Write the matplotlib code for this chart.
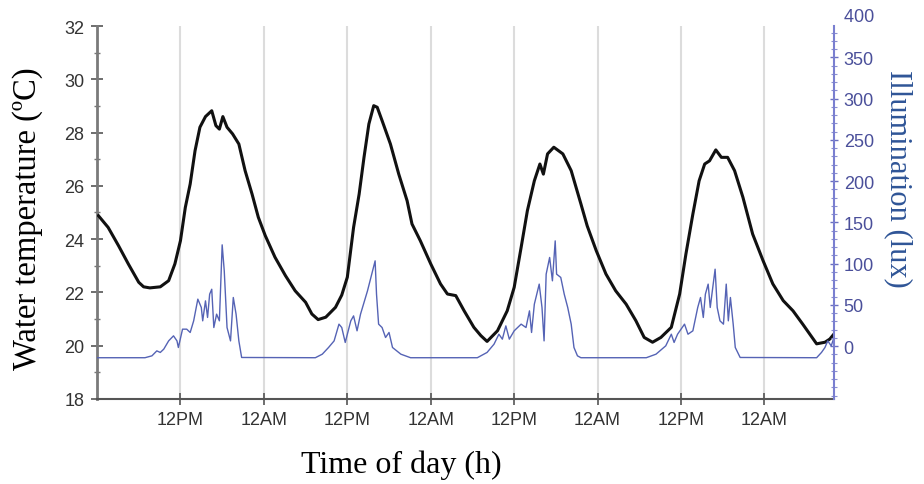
import numpy as np
import matplotlib
matplotlib.use("Agg")
import matplotlib.pyplot as plt
from matplotlib.ticker import MultipleLocator, FixedLocator
import matplotlib.transforms as mtransforms

# Water temperature (degC) against time (hours from the first midnight)
temp_hours = [0.2, 1.6, 3.1, 4.5, 6.0, 6.7, 7.6, 9.1, 10.3, 11.2, 12.0, 12.7, 13.4, 14.1,
              14.8, 15.6, 16.5, 17.1, 17.6, 18.1, 18.7, 19.5, 20.4, 21.3, 22.3, 23.2,
              24.2, 25.6, 27.1, 28.5, 30.0, 30.9, 31.8, 32.9, 34.3, 35.2, 36.0, 36.9,
              37.7, 38.4, 39.1, 39.8, 40.3, 41.0, 42.2, 43.4, 44.6, 45.3, 46.5, 48.0,
              49.4, 50.4, 51.6, 52.8, 54.2, 55.2, 56.1, 57.6, 59.0, 60.0, 61.0, 61.9,
              62.9, 63.7, 64.2, 64.8, 65.7, 67.0, 68.2, 69.6, 70.5, 71.8, 73.2, 74.6,
              76.1, 77.5, 78.7, 79.9, 81.1, 82.6, 83.8, 84.7, 85.7, 86.6, 87.4, 88.1,
              89.0, 89.8, 90.7, 91.7, 92.9, 94.3, 95.8, 97.2, 98.7, 100.1, 101.5, 102.5,
              103.5, 104.7, 105.4, 106.0]
temp_values = [24.88, 24.44, 23.75, 23.07, 22.38, 22.21, 22.17, 22.21, 22.44, 23.07, 23.94,
               25.19, 26.07, 27.32, 28.2, 28.6, 28.82, 28.26, 28.13, 28.6, 28.2, 27.95,
               27.57, 26.57, 25.69, 24.82, 24.13, 23.32, 22.63, 22.06, 21.63, 21.19, 20.98,
               21.07, 21.44, 21.9, 22.57, 24.44, 25.69, 27.07, 28.32, 29.01, 28.95, 28.45,
               27.57, 26.44, 25.44, 24.57, 23.94, 23.07, 22.32, 21.94, 21.88, 21.31, 20.69,
               20.38, 20.16, 20.56, 21.31, 22.19, 23.69, 25.07, 26.19, 26.82, 26.44, 27.2,
               27.45, 27.2, 26.57, 25.32, 24.5, 23.57, 22.69, 22.06, 21.56, 20.94, 20.31,
               20.13, 20.31, 20.69, 21.94, 23.44, 24.94, 26.19, 26.82, 26.94, 27.35, 27.07,
               27.07, 26.57, 25.57, 24.19, 23.19, 22.32, 21.69, 21.31, 20.81, 20.44, 20.07,
               20.13, 20.25, 20.44]

# Illumination (lux)
lux_hours = [0.0, 6.9, 7.9, 8.6, 9.1, 9.6, 10.3, 11.0, 11.5, 11.7, 12.3, 12.9, 13.4, 13.9,
             14.5, 15.0, 15.2, 15.6, 15.9, 16.2, 16.5, 16.8, 17.2, 17.6, 18.0, 18.3, 18.7,
             19.2, 19.6, 20.0, 20.4, 20.8, 31.4, 32.4, 33.3, 34.1, 34.8, 35.2, 35.7, 36.5,
             36.9, 37.4, 37.9, 38.9, 40.0, 40.2, 40.5, 41.0, 41.5, 42.0, 42.5, 43.7, 45.1,
             54.7, 56.1, 57.1, 57.8, 58.3, 58.8, 59.3, 60.0, 61.0, 61.7, 62.2, 62.5, 62.9,
             63.6, 64.0, 64.3, 64.6, 65.1, 65.5, 65.9, 66.1, 66.7, 67.2, 67.7, 68.2, 68.6,
             69.1, 69.6, 79.0, 80.4, 81.8, 82.6, 83.0, 83.5, 84.5, 85.0, 85.7, 86.4, 86.8,
             87.2, 87.5, 87.9, 88.2, 88.5, 88.9, 89.2, 89.6, 90.1, 90.5, 90.8, 91.1, 91.5,
             91.8, 92.5, 103.5, 104.2, 104.7, 105.1, 105.6, 106.0]
lux_values = [-14, -14, -11.7, -5.7, -7.6, -3.6, 6.4, 12.5, 6.4, -1.6, 20.6, 20.6, 16.6, 30.7,
              57, 46.9, 30.7, 54.9, 34.8, 63, 69, 22.6, 38.8, 30.7, 122.8, 91.3, 22.6,
              6.4, 59, 38.8, 6.4, -13.7, -14, -9.7, -1.6, 6.4, 26.7, 22.6, 4.5, 30.7,
              36.7, 18.6, 38.8, 67, 103.4, 63, 26.7, 22.6, 10.5, 16.6, -1.6, -9.7, -14,
              -14, -7.6, 2.4, 14.5, 8.5, 24.6, 8.5, 18.6, 26.7, 22.6, 42.8, 16.6, 50.9,
              75.2, 46.9, 6.4, 87.3, 107.5, 79.2, 127.6, 87.3, 83.3, 63, 46.9, 26.7, -1.6,
              -11.7, -14, -14, -9.7, 0.4, 14.5, 4.5, 14.5, 26.7, 14.5, 18.6, 46.9, 59,
              34.8, 63, 75.2, 46.9, 67, 93.3, 46.9, 30.7, 26.7, 75.2, 30.7, 59, 26.7,
              -1.6, -13.7, -14, -7.6, -1.6, 6.4, 0.4, 10.5]

x_ticks = [12, 24, 36, 48, 60, 72, 84, 96]
x_labels = ["12PM", "12AM", "12PM", "12AM", "12PM", "12AM", "12PM", "12AM"]
lux_ticks = [0, 50, 100, 150, 200, 250, 300, 350]

fig = plt.figure(figsize=(9.24, 4.85), dpi=100)
ax = fig.add_axes([0.105, 0.1753, 0.7976, 0.769])
ax2 = ax.twinx()

ax.plot(temp_hours, temp_values, color="#111111", lw=2.2, zorder=3)
ax2.plot(lux_hours, lux_values, color="#5563b5", lw=1.0)

ax.set_xlim(0, 106)
ax.set_ylim(18, 32)
ax2.set_ylim(-64, 388)

ax.xaxis.set_major_locator(FixedLocator(x_ticks))
ax.set_xticklabels(x_labels)
ax.grid(axis="x", color="#dcdcdc", lw=1.5)
ax.set_axisbelow(True)

ax.yaxis.set_major_locator(MultipleLocator(2))
ax.yaxis.set_minor_locator(MultipleLocator(1))
ax2.yaxis.set_major_locator(FixedLocator(lux_ticks))
ax2.yaxis.set_minor_locator(MultipleLocator(10))

for lab in ax.get_xticklabels() + ax.get_yticklabels():
    lab.set_fontfamily("Liberation Sans")
    lab.set_fontsize(13)
    lab.set_color("#333333")
for lab in ax2.get_yticklabels():
    lab.set_fontfamily("Liberation Sans")
    lab.set_fontsize(13)
    lab.set_color("#4a4f9a")

ax.tick_params(axis="x", direction="inout", length=8, width=1.2, color="#555555", pad=5)
ax.tick_params(axis="y", which="major", direction="inout", length=8, width=1.2, color="#555555", pad=5)
ax.tick_params(axis="y", which="minor", direction="inout", length=5, width=1.0, color="#777777")
ax2.tick_params(axis="y", which="major", direction="inout", length=6, width=1.0, color="#6a6fc0", pad=4)
ax2.tick_params(axis="y", which="minor", direction="inout", length=4, width=0.8, color="#8a8fd0")

for a in (ax, ax2):
    a.spines["top"].set_visible(False)
ax.spines["left"].set_color("#7a7a7a")
ax.spines["left"].set_linewidth(2)
ax.spines["bottom"].set_color("#555555")
ax.spines["bottom"].set_linewidth(1.5)
ax.spines["right"].set_visible(False)
ax2.spines["left"].set_visible(False)
ax2.spines["bottom"].set_visible(False)
ax2.spines["right"].set_color("#7a7fd0")
ax2.spines["right"].set_linewidth(1.5)

# top label of the right axis sits just above the frame
trans = mtransforms.blended_transform_factory(ax2.transAxes, ax2.transData)
ax2.text(1.0, 400, "  400", transform=trans, ha="left", va="center", clip_on=False,
         fontfamily="Liberation Sans", fontsize=13, color="#4a4f9a")

serif = "Liberation Serif"
ax.set_ylabel("Water temperature (ºC)", fontfamily=serif, fontsize=23.5, va="center")
ax.yaxis.set_label_coords(-0.094, 0.485)
ax.set_xlabel("Time of day (h)", fontfamily=serif, fontsize=23, va="center")
ax.xaxis.set_label_coords(0.4125, -0.174)
ax2.set_ylabel("Illumination (lux)", fontfamily=serif, fontsize=22, color="#2f5597",
               rotation=270, va="center")
ax2.yaxis.set_label_coords(1.087, 0.592)

fig.savefig("out.png", dpi=100)
